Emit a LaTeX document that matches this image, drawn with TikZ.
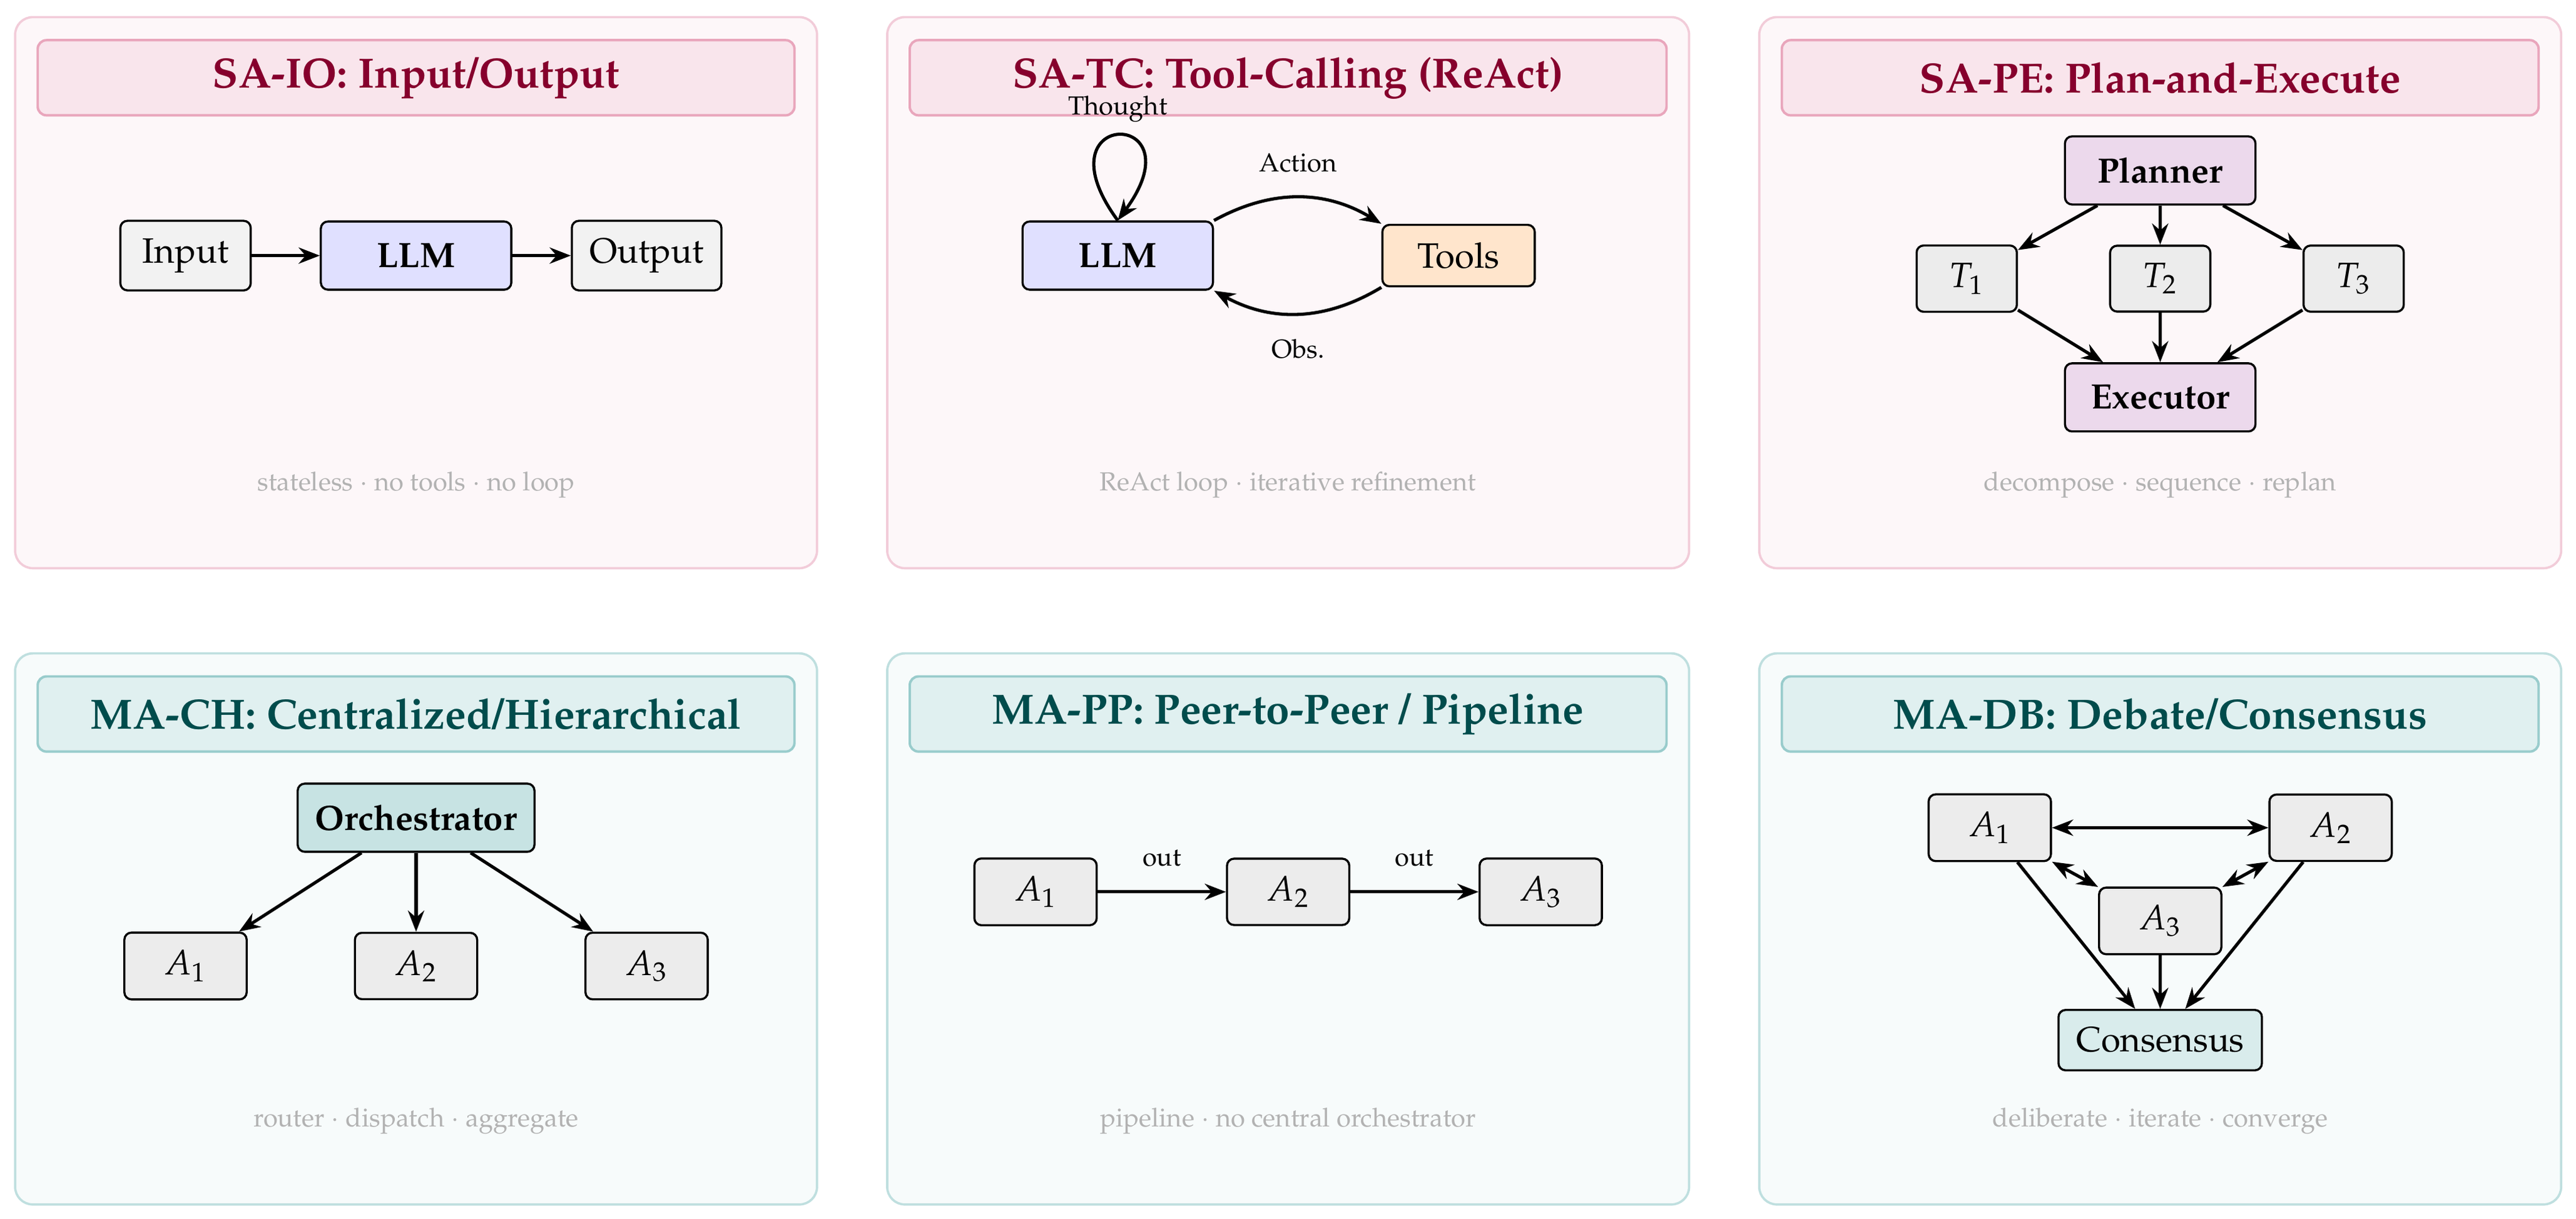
\documentclass[tikz,border=0pt]{standalone}
\usepackage[T1]{fontenc}
\usepackage{mathpazo}
\usetikzlibrary{arrows.meta}

\begin{document}
\begin{tikzpicture}[
    >={Stealth[length=6pt,width=4.6pt]},
    sapanel/.style={draw=purple!20, fill=purple!3, line width=0.65pt, rounded corners=5pt},
    mapanel/.style={draw=teal!25, fill=teal!3, line width=0.65pt, rounded corners=5pt},
    satitle/.style={draw=purple!35, fill=purple!10, text=purple!70!black, font=\large\bfseries,
        line width=0.7pt, rounded corners=2.5pt, minimum width=7.55cm, minimum height=0.75cm},
    matitle/.style={satitle, draw=teal!40, fill=teal!12, text=teal!60!black},
    box/.style={draw, semithick, rounded corners=2pt, inner sep=5pt},
    main/.style={box, font=\bfseries, minimum width=1.9cm, minimum height=0.68cm},
    io/.style={box, fill=gray!10},
    task/.style={box, fill=gray!15, minimum width=1cm},
    agent/.style={box, fill=gray!15, minimum width=1.22cm},
    lbl/.style={font=\fontsize{7.4}{9}\selectfont},
    foot/.style={font=\fontsize{7.4}{9}\selectfont, text=gray!60},
    arr/.style={->, line width=0.9pt},
    darr/.style={<->, line width=0.9pt}
]
\useasboundingbox (-4.151,2.921) rectangle (21.548,-9.245);

% SA-IO
\draw[sapanel] (-4,-2.75) rectangle (4,2.75);
\node[satitle] (io-title) at (0,2.145) {SA-IO: Input/Output};
\node[io, minimum width=1.3cm] (io-in) at (-2.3,0.37) {Input};
\node[main, fill=blue!12] (io-llm) at (0,0.37) {LLM};
\node[io] (io-out) at (2.3,0.37) {Output};
\draw[arr] (io-in) -- (io-llm);
\draw[arr] (io-llm) -- (io-out);
\node[foot] (io-foot) at (0,-1.92) {stateless $\cdot$ no tools $\cdot$ no loop};

% SA-TC
\begin{scope}[shift={(8.7,0)}]
\draw[sapanel] (-4,-2.75) rectangle (4,2.75);
\node[satitle] (tc-title) at (0,2.145) {SA-TC: Tool-Calling (ReAct)};
\node[main, fill=blue!12] (tc-llm) at (-1.7,0.37) {LLM};
\node[box, fill=orange!20, minimum width=1.52cm] (tc-tools) at (1.7,0.37) {Tools};
\draw[arr] (tc-llm.north) .. controls +(-0.83,1.13) and +(0.83,1.13) .. (tc-llm.north)
    node[lbl, above, pos=0.5] (tc-thought) {Thought};
\draw[arr] (tc-llm.north east) to[bend left=30] node[lbl, above=3.5pt] (tc-action) {Action} (tc-tools.north west);
\draw[arr] (tc-tools.south west) to[bend left=30] node[lbl, below=3.5pt] (tc-obs) {Obs.} (tc-llm.south east);
\node[foot] (tc-foot) at (0,-1.92) {ReAct loop $\cdot$ iterative refinement};
\end{scope}

% SA-PE
\begin{scope}[shift={(17.4,0)}]
\draw[sapanel] (-4,-2.75) rectangle (4,2.75);
\node[satitle] (pe-title) at (0,2.145) {SA-PE: Plan-and-Execute};
\node[main, fill=violet!15] (pe-plan) at (0,1.22) {Planner};
\foreach \i/\x in {1/-1.93, 2/0, 3/1.93}
    \node[task] (pe-t\i) at (\x,0.14) {$T_\i$};
\node[main, fill=violet!15] (pe-exec) at (0,-1.045) {Executor};
\foreach \i in {1,2,3} {
    \draw[arr] (pe-plan) -- (pe-t\i);
    \draw[arr] (pe-t\i) -- (pe-exec);
}
\node[foot] (pe-foot) at (0,-1.92) {decompose $\cdot$ sequence $\cdot$ replan};
\end{scope}

% MA-CH
\begin{scope}[shift={(0,-6.35)}]
\draw[mapanel] (-4,-2.75) rectangle (4,2.75);
\node[matitle] (ch-title) at (0,2.145) {MA-CH: Centralized/Hierarchical};
\node[main, fill=teal!22] (ch-orch) at (0,1.11) {Orchestrator};
\foreach \i/\x in {1/-2.3, 2/0, 3/2.3} {
    \node[agent] (ch-a\i) at (\x,-0.37) {$A_\i$};
    \draw[arr] (ch-orch) -- (ch-a\i);
}
\node[foot] (ch-foot) at (0,-1.92) {router $\cdot$ dispatch $\cdot$ aggregate};
\end{scope}

% MA-PP
\begin{scope}[shift={(8.7,-6.35)}]
\draw[mapanel] (-4,-2.75) rectangle (4,2.75);
\node[matitle] (pp-title) at (0,2.145) {MA-PP: Peer-to-Peer / Pipeline};
\foreach \i/\x in {1/-2.52, 2/0, 3/2.52}
    \node[agent] (pp-a\i) at (\x,0.37) {$A_\i$};
\draw[arr] (pp-a1) -- node[lbl, above=3.5pt] (pp-out1) {out} (pp-a2);
\draw[arr] (pp-a2) -- node[lbl, above=3.5pt] (pp-out2) {out} (pp-a3);
\node[foot] (pp-foot) at (0,-1.92) {pipeline $\cdot$ no central orchestrator};
\end{scope}

% MA-DB
\begin{scope}[shift={(17.4,-6.35)}]
\draw[mapanel] (-4,-2.75) rectangle (4,2.75);
\node[matitle] (db-title) at (0,2.145) {MA-DB: Debate/Consensus};
\node[agent] (db-a1) at (-1.7,1.01) {$A_1$};
\node[agent] (db-a2) at (1.7,1.01) {$A_2$};
\node[agent] (db-a3) at (0,0.08) {$A_3$};
\node[box, fill=teal!15] (db-cons) at (0,-1.11) {Consensus};
\draw[darr] (db-a1) -- (db-a2);
\draw[darr] (db-a1) -- (db-a3);
\draw[darr] (db-a2) -- (db-a3);
\foreach \i in {1,2,3}
    \draw[arr] (db-a\i) -- (db-cons);
\node[foot] (db-foot) at (0,-1.92) {deliberate $\cdot$ iterate $\cdot$ converge};
\end{scope}
\end{tikzpicture}
\end{document}
